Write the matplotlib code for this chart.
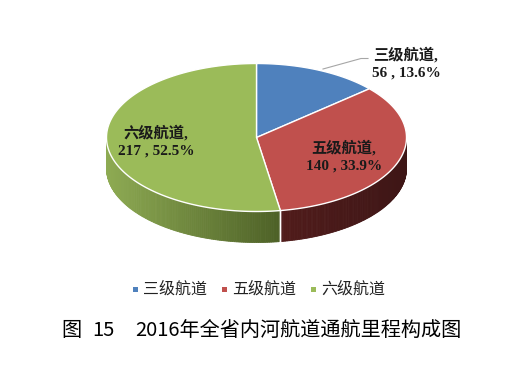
import numpy as np
import matplotlib.pyplot as plt
import matplotlib.colors as mcolors
from matplotlib.patches import Polygon, Rectangle

labels = ['三级航道', '五级航道', '六级航道']
values = [56, 140, 217]
percents = [13.6, 33.9, 52.5]
colors = ['#4f81bd', '#c0504d', '#9bbb59']
side_light = ['#3e6596', '#6a2321', '#8eab53']
side_dark = ['#27405f', '#3e1616', '#4b5e25']
fig_no = ['图', '15']
title = '2016年全省内河航道通航里程构成图'

lab_font = ['Liberation Serif', 'Noto Sans CJK SC']
sans_font = ['Noto Sans CJK SC', 'DejaVu Sans']

W, H = 523, 367
fig = plt.figure(figsize=(W / 100, H / 100), dpi=100)
ax = fig.add_axes([0, 0, 1, 1])
ax.set_xlim(0, W)
ax.set_ylim(H, 0)
ax.axis('off')

# pie geometry in pixels
cx, cy, a, b, depth = 256.5, 137.5, 150, 74, 31


def edge(t):
    return cx + a * np.cos(t), cy - b * np.sin(t)


total = sum(values)
angles = [90.0]
for v in values:
    angles.append(angles[-1] - 360.0 * v / total)

# side walls (front half only)
for i in range(len(values)):
    t0, t1 = angles[i + 1], angles[i]
    lo, hi = max(t0, -180.0), min(t1, 0.0)
    if lo >= hi:
        continue
    ts = np.radians(np.linspace(lo, hi, 120))
    c1 = np.array(mcolors.to_rgb(side_light[i]))
    c2 = np.array(mcolors.to_rgb(side_dark[i]))
    for k in range(len(ts) - 1):
        x0, y0 = edge(ts[k])
        x1, y1 = edge(ts[k + 1])
        f = ((x0 + x1) / 2 - (cx - a)) / (2 * a)
        if i == 2:
            f = f / 0.6
        f = min(max(f, 0), 1)
        col = c1 * (1 - f) + c2 * f
        ax.add_patch(Polygon([(x0, y0), (x1, y1), (x1, y1 + depth), (x0, y0 + depth)],
                             closed=True, facecolor=col, edgecolor=col, lw=0.6))
    for t in (t0, t1):
        if -180 < t < 0:
            x, y = edge(np.radians(t))
            ax.plot([x, x], [y, y + depth], color='white', lw=1.0)

# top faces
for i in range(len(values)):
    ts = np.radians(np.linspace(angles[i], angles[i + 1], 200))
    pts = [(cx, cy)] + [edge(t) for t in ts]
    ax.add_patch(Polygon(pts, closed=True, facecolor=colors[i], edgecolor='white', lw=1.0))

# labels
ax.plot([323, 361, 368], [69, 58.5, 58.5], color='#a6a6a6', lw=0.8)
lab_pos = [(406, 55), (344, 148), (156, 133)]
for i, (x, y) in enumerate(lab_pos):
    ax.text(x, y, f'{labels[i]},', ha='center', va='center', fontsize=11,
            fontweight='bold', family=lab_font, color='#1a1a1a')
    ax.text(x, y + 18.5, f'{values[i]} , {percents[i]}%', ha='center', va='center',
            fontsize=11, fontweight='bold', family=lab_font, color='#1a1a1a')

# legend
lx = [133, 222, 311]
for i in range(3):
    ax.add_patch(Rectangle((lx[i], 287), 5, 5, facecolor=colors[i], edgecolor='none'))
    ax.text(lx[i] + 10, 289.5, labels[i], ha='left', va='center', fontsize=11.5,
            family=sans_font, color='#222222')

# caption
ax.text(71.5, 330, fig_no[0], ha='center', va='center', fontsize=14.5, family=sans_font)
ax.text(103.5, 330, fig_no[1], ha='center', va='center', fontsize=14.5, family=sans_font)
ax.text(298.5, 330, title, ha='center', va='center', fontsize=14.5, family=sans_font)

fig.savefig('out.png', dpi=100)
